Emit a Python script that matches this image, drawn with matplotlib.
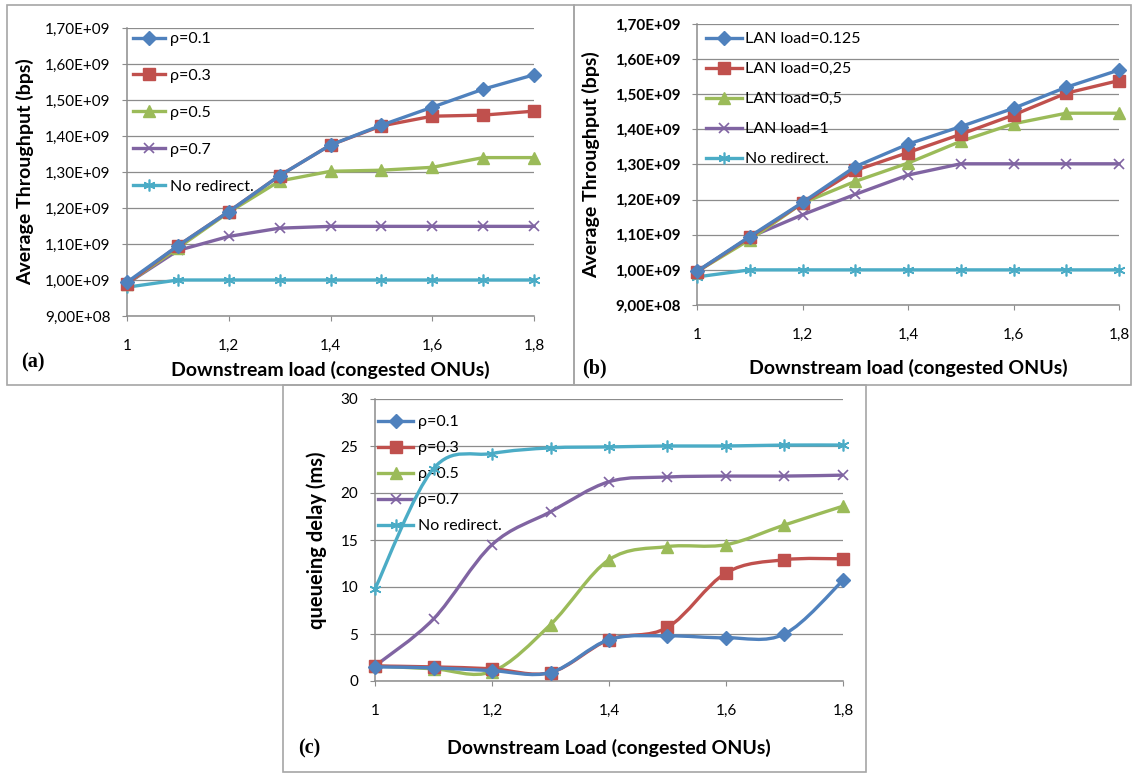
"""
Throughput and queueing delay vs downstream load, three panels (a), (b), (c)
"""
import matplotlib.pyplot as plt
import numpy as np
from matplotlib.lines import Line2D
from matplotlib.path import Path
from matplotlib.patches import PathPatch, Rectangle
from matplotlib.ticker import FuncFormatter

plt.rcParams['font.family'] = ['Lato', 'DejaVu Sans']

load = [1.0, 1.1, 1.2, 1.3, 1.4, 1.5, 1.6, 1.7, 1.8]
xtick_pos = [1.0, 1.2, 1.4, 1.6, 1.8]
xtick_labels = ["1", "1,2", "1,4", "1,6", "1,8"]

# (a) throughput, units of 1e9 bps
a_labels = ["ρ=0.1", "ρ=0.3", "ρ=0.5", "ρ=0.7", "No redirect."]
a_rho01 = [0.994, 1.095, 1.19, 1.29, 1.375, 1.43, 1.48, 1.53, 1.57]
a_rho03 = [0.99, 1.095, 1.19, 1.29, 1.375, 1.428, 1.455, 1.458, 1.469]
a_rho05 = [0.99, 1.089, 1.188, 1.275, 1.302, 1.305, 1.313, 1.34, 1.34]
a_rho07 = [0.99, 1.082, 1.121, 1.144, 1.149, 1.149, 1.149, 1.149, 1.149]
a_noredir = [0.98, 1.0, 1.0, 1.0, 1.0, 1.0, 1.0, 1.0, 1.0]

# (b) throughput, units of 1e9 bps
b_labels = ["LAN load=0.125", "LAN load=0,25", "LAN load=0,5", "LAN load=1", "No redirect."]
b_lan0125 = [0.996, 1.095, 1.192, 1.294, 1.358, 1.408, 1.46, 1.52, 1.569]
b_lan025 = [0.995, 1.093, 1.19, 1.283, 1.334, 1.386, 1.441, 1.503, 1.539]
b_lan05 = [0.995, 1.086, 1.19, 1.252, 1.304, 1.366, 1.416, 1.446, 1.446]
b_lan1 = [0.995, 1.093, 1.157, 1.215, 1.27, 1.302, 1.302, 1.302, 1.302]
b_noredir = [0.98, 1.0, 1.0, 1.0, 1.0, 1.0, 1.0, 1.0, 1.0]

# (c) queueing delay, ms
c_labels = ["ρ=0.1", "ρ=0.3", "ρ=0.5", "ρ=0.7", "No redirect."]
c_rho01 = [1.5, 1.4, 1.1, 0.9, 4.4, 4.8, 4.6, 5.0, 10.7]
c_rho03 = [1.6, 1.5, 1.3, 0.9, 4.4, 5.7, 11.5, 12.9, 13.0]
c_rho05 = [1.6, 1.3, 1.0, 6.0, 12.9, 14.3, 14.5, 16.6, 18.6]
c_rho07 = [1.6, 6.6, 14.5, 18.0, 21.2, 21.7, 21.8, 21.8, 21.9]
c_noredir = [9.8, 22.6, 24.2, 24.8, 24.9, 25.0, 25.0, 25.1, 25.1]

colors = ["#4F81BD", "#C0504D", "#9BBB59", "#8064A2", "#4BACC6"]
markers = ["D", "s", "^", "x", (6, 2, 0)]
msizes = [7, 8, 8.5, 7.5, 8.5]
GRID = "#8C8C8C"
LABEL_FS = 14
TICK_FS = 11
LEG_FS = 11.5

W, H = 1133, 774


def rect(left, top, right, bottom):
    return [left / W, 1 - bottom / H, (right - left) / W, (bottom - top) / H]


def style_axes(ax, bold_ticks=False):
    for s in ["top", "right"]:
        ax.spines[s].set_visible(False)
    for s in ["left", "bottom"]:
        ax.spines[s].set_color(GRID)
        ax.spines[s].set_linewidth(1.1)
        ax.spines[s].set_zorder(1)
    ax.grid(axis="y", color=GRID, linewidth=0.9, zorder=0)
    ax.set_axisbelow(True)
    ax.set_xlim(1.0, 1.8)
    ax.set_xticks(xtick_pos)
    ax.set_xticklabels(xtick_labels)
    ax.tick_params(axis="x", direction="out", length=3.6, color=GRID, pad=13, labelsize=TICK_FS)
    ax.tick_params(axis="y", direction="out", length=3.6, color=GRID, pad=8.3, labelsize=TICK_FS)
    if bold_ticks:
        for t in ax.get_yticklabels():
            t.set_fontweight("bold")


def sci_comma(v, pos):
    return f"{v:.2E}".replace(".", ",")


def smooth_path(x, y):
    # Bezier through the points, like a spreadsheet "smoothed line"
    n = len(x)
    pts = np.column_stack([x, y])
    verts = [tuple(pts[0])]
    codes = [Path.MOVETO]
    for i in range(n - 1):
        p0 = pts[max(i - 1, 0)]
        p1 = pts[i]
        p2 = pts[i + 1]
        p3 = pts[min(i + 2, n - 1)]
        verts += [tuple(p1 + (p2 - p0) / 6), tuple(p2 - (p3 - p1) / 6), tuple(p2)]
        codes += [Path.CURVE4] * 3
    return Path(verts, codes)


def marker_kw(i):
    lw = 1.2 if i >= 3 else 1.0
    return dict(marker=markers[i], markersize=msizes[i], markerfacecolor=colors[i],
                markeredgecolor=colors[i], markeredgewidth=lw)


fig = plt.figure(figsize=(W / 100, H / 100), dpi=100)

# panel frames
for (l, t, r, b) in [(7, 5, 574, 385), (574, 5, 1131, 385), (283, 385, 866, 772)]:
    fig.add_artist(Rectangle((l / W, 1 - b / H), (r - l) / W, (b - t) / H,
                             transform=fig.transFigure, fill=False,
                             edgecolor="#A6A6A6", linewidth=1.2))

# ---- (a)
ax = fig.add_axes(rect(127, 28, 534, 316))
series = [a_rho01, a_rho03, a_rho05, a_rho07, a_noredir]
for i, (vals, lab) in enumerate(zip(series, a_labels)):
    ax.plot(load, np.array(vals) * 1e9, color=colors[i], linewidth=2.4, label=lab,
            clip_on=False, zorder=3 + 0.1 * (4 - i), **marker_kw(i))
ax.set_ylim(0.9e9, 1.7e9)
ax.set_yticks(np.arange(9, 18) * 1e8)
ax.yaxis.set_major_formatter(FuncFormatter(sci_comma))
style_axes(ax)
ax.set_xlabel("Downstream load (congested ONUs)", fontsize=LABEL_FS, fontweight="bold", va="center")
ax.xaxis.set_label_coords(0.5, (316 - 370) / 288)
ax.set_ylabel("Average Throughput (bps)", fontsize=LABEL_FS, fontweight="bold", va="center")
ax.yaxis.set_label_coords((25 - 127) / 407, 0.5)
leg = ax.legend(loc="upper left", bbox_to_anchor=((133 - 127) / 407, 1 - (32 - 28) / 288),
                frameon=False, fontsize=LEG_FS, handlelength=2.0, handletextpad=0.3,
                labelspacing=1.42, borderpad=0, borderaxespad=0)
leg.set_zorder(2)
fig.text(21 / W, 1 - 362 / H, "(a)", family="Liberation Serif", fontweight="bold",
         fontsize=14.5, va="center", ha="left")

# ---- (b)
ax = fig.add_axes(rect(697, 24, 1119, 305))
series = [b_lan0125, b_lan025, b_lan05, b_lan1, b_noredir]
for i, (vals, lab) in enumerate(zip(series, b_labels)):
    ax.plot(load, np.array(vals) * 1e9, color=colors[i], linewidth=2.4, label=lab,
            clip_on=False, zorder=3 + 0.1 * (4 - i), **marker_kw(i))
ax.set_ylim(0.9e9, 1.7e9)
ax.set_yticks(np.arange(9, 18) * 1e8)
ax.yaxis.set_major_formatter(FuncFormatter(sci_comma))
style_axes(ax, bold_ticks=True)
ax.set_xlabel("Downstream load (congested ONUs)", fontsize=LABEL_FS, fontweight="bold", va="center")
ax.xaxis.set_label_coords(0.5, (305 - 368) / 281)
ax.set_ylabel("Average Throughput (bps)", fontsize=LABEL_FS, fontweight="bold", va="center")
ax.yaxis.set_label_coords((591 - 697) / 422, 0.5)
leg = ax.legend(loc="upper left", bbox_to_anchor=((706 - 697) / 422, 1 - (32 - 24) / 281),
                frameon=False, fontsize=LEG_FS, handlelength=2.25, handletextpad=0.2,
                labelspacing=0.99, borderpad=0, borderaxespad=0)
leg.set_zorder(2)
fig.text(582 / W, 1 - 368 / H, "(b)", family="Liberation Serif", fontweight="bold",
         fontsize=14.5, va="center", ha="left")

# ---- (c)
ax = fig.add_axes(rect(375, 399, 843, 681))
series = [c_rho01, c_rho03, c_rho05, c_rho07, c_noredir]
handles = []
for i, (vals, lab) in enumerate(zip(series, c_labels)):
    z = 3 + 0.1 * (4 - i)
    ax.add_patch(PathPatch(smooth_path(np.array(load), np.array(vals)), fill=False,
                           edgecolor=colors[i], linewidth=2.4, zorder=z, clip_on=False))
    ax.plot(load, vals, linestyle="none", clip_on=False, zorder=z + 0.05, **marker_kw(i))
    handles.append(Line2D([], [], color=colors[i], linewidth=2.4, label=lab, **marker_kw(i)))
ax.set_ylim(0, 30)
ax.set_yticks(np.arange(0, 31, 5))
style_axes(ax)
ax.set_xlabel("Downstream Load (congested ONUs)", fontsize=LABEL_FS, fontweight="bold", va="center")
ax.xaxis.set_label_coords(0.5, (681 - 748) / 282)
ax.set_ylabel("queueing delay (ms)", fontsize=LABEL_FS + 0.5, fontweight="bold", va="center")
ax.yaxis.set_label_coords((317 - 375) / 468, 0.5)
leg = ax.legend(handles=handles, loc="upper left",
                bbox_to_anchor=((378 - 375) / 468, 1 - (415 - 399) / 282),
                frameon=False, fontsize=LEG_FS, handlelength=2.2, handletextpad=0.3,
                labelspacing=0.74, borderpad=0, borderaxespad=0)
leg.set_zorder(2)
fig.text(298 / W, 1 - 748 / H, "(c)", family="Liberation Serif", fontweight="bold",
         fontsize=14.5, va="center", ha="left")

fig.savefig("out.png", dpi=100)
